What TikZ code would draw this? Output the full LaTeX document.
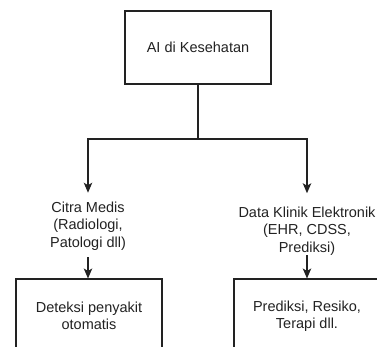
\documentclass[tikz,border=0pt]{standalone}
\usepackage{fontspec}
\setmainfont{Liberation Sans}
\usetikzlibrary{arrows.meta}
\definecolor{lnc}{HTML}{222222}
\definecolor{txc}{HTML}{222222}
\tikzset{
  box/.style={draw=lnc, line width=1.05pt, minimum width=146pt, minimum height=73pt, align=center, text=txc, inner sep=0pt},
  lbl/.style={align=center, text=txc, inner sep=0pt},
  conn/.style={draw=lnc, line width=1.05pt, -{Stealth[length=10pt,width=8.5pt,inset=2.5pt]}},
  plain/.style={draw=lnc, line width=1.05pt},
}
\begin{document}
\begin{tikzpicture}[x=1pt,y=-1pt,font=\fontsize{14.5}{17.3}\selectfont]
\useasboundingbox (0,0) rectangle (377,347);
\clip (0,0) rectangle (377,347);
\node[box] (ai) at (198,47.5) {AI di Kesehatan};
\coordinate (j) at (198,139);
\node[lbl] (citra) at (88,226) {Citra Medis\\(Radiologi,\\Patologi dll)};
\node[lbl] (data) at (307,231) {Data Klinik Elektronik\\(EHR, CDSS,\\Prediksi)};
\node[box, minimum height=74pt] (det) at (89,316) {Deteksi penyakit\\otomatis};
\node[box, minimum height=74pt] (pred) at (307,316) {Prediksi, Resiko,\\Terapi dll.};
\draw[plain] (ai.south) -- (j);
\draw[conn] (j) -| ([yshift=9pt]citra.north);
\draw[conn] (j) -| ([yshift=13.5pt]data.north);
\draw[conn] ([yshift=-7pt]citra.south) -- (citra.south |- det.north);
\draw[conn] (data.south) -- (data.south |- pred.north);
\end{tikzpicture}
\end{document}
